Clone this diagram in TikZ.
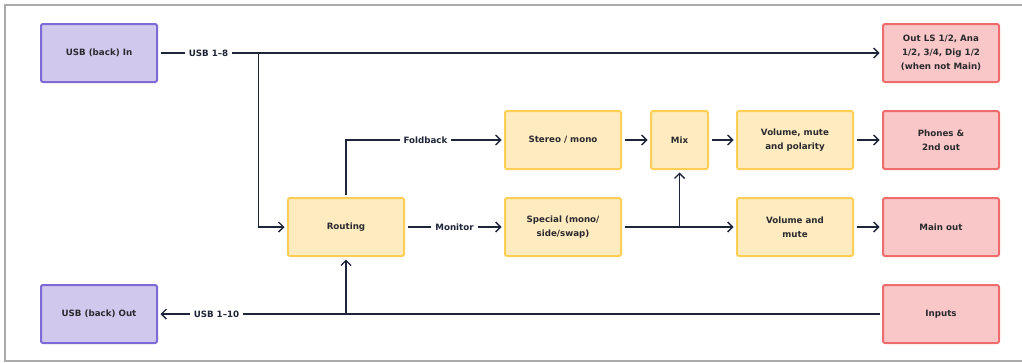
\documentclass[tikz,border=0pt]{standalone}
\usepackage{fontspec}
\setmainfont{DejaVu Sans}
\usetikzlibrary{positioning,arrows.meta}
\definecolor{srcfill}{HTML}{D0C9ED}
\definecolor{srcdraw}{HTML}{7E69D6}
\definecolor{procfill}{HTML}{FFEBC0}
\definecolor{procdraw}{HTML}{FFCF55}
\definecolor{outfill}{HTML}{F9C7C7}
\definecolor{outdraw}{HTML}{EE6C6C}
\definecolor{wirecol}{HTML}{1F2538}
\definecolor{boxtext}{HTML}{2A2A2E}
\definecolor{framecol}{HTML}{ABABAB}
\newcommand\flowfont{\fontsize{8.7}{14}\selectfont\bfseries}

\begin{document}
\begin{tikzpicture}[x=1pt,y=1pt,
    >={Straight Barb[length=5pt,width=10pt]},
    box/.style={draw,rectangle,rounded corners=2pt,line width=2pt,anchor=center,
        minimum width=116pt,minimum height=58pt,inner sep=2pt,outer sep=3.5pt,
        align=center,font=\flowfont,text=boxtext},
    srcbox/.style={box,draw=srcdraw,fill=srcfill},
    procbox/.style={box,draw=procdraw,fill=procfill},
    outbox/.style={box,draw=outdraw,fill=outfill},
    flowlabel/.style={inner sep=4pt,outer sep=0pt,font=\flowfont,text=wirecol},
    wire/.style={draw=wirecol,line width=1.4pt}]
    \useasboundingbox (0,0) rectangle (1022,-362);
    \draw [framecol,line width=1.5pt] (1022,-5) -- (5,-5) -- (5,-361) -- (1022,-361);
    \matrix (flow) [row sep=27pt,column sep=27pt,inner sep=0pt,outer sep=0pt,
        anchor=north west] at (40,-23) {
        \node (usbin) [srcbox] {USB (back) In};
        &[102pt] &[72pt] &[1pt] & &[1pt]
        \node (outls) [outbox] {Out LS 1/2, Ana\\1/2, 3/4, Dig 1/2\\(when not Main)};
        \\
        & &
        \node (stereo) [procbox] {Stereo / mono};
        &
        \node (mix) [procbox,minimum width=57pt] {Mix};
        &
        \node (volpol) [procbox] {Volume, mute\\and polarity};
        &
        \node (phones) [outbox] {Phones \&\\2nd out};
        \\
        &
        \node (routing) [procbox] {Routing};
        &
        \node (special) [procbox] {Special (mono/\\side/swap)};
        & &
        \node (volmute) [procbox] {Volume and\\mute};
        &
        \node (mainout) [outbox] {Main out};
        \\
        \node (usbout) [srcbox] {USB (back) Out};
        & & & & &
        \node (inputs) [outbox] {Inputs};
        \\
    };
    % labels on the wires
    \node (usb18) [flowlabel,right=48pt of usbin.east,anchor=center] {USB 1--8};
    \node (usb110) [flowlabel,right=56pt of usbout.east,anchor=center] {USB 1--10};
    \node (foldback) [flowlabel,left=76pt of stereo.west,anchor=center] {Foldback};
    \node (monitor) [flowlabel,left=47pt of special.west,anchor=center] {Monitor};
    \coordinate [left=26pt of routing.west] (inbranch);

    \draw [wire] (usbin) -- (usb18);
    \draw [wire,->] (usb18) -- (outls);
    \draw [wire,->] (inbranch |- usbin.east) -- (inbranch) -- (routing.west);
    \draw [wire] (routing.north) |- (foldback);
    \draw [wire,->] (foldback) -- (stereo);
    \draw [wire] (routing) -- (monitor);
    \draw [wire,->] (monitor) -- (special);
    \draw [wire,->] (stereo) -- (mix);
    \draw [wire,->] (mix) -- (volpol);
    \draw [wire,->] (volpol) -- (phones);
    \draw [wire,->] (special) -- (volmute);
    \draw [wire,->] (mix.south |- special.east) -- (mix.south);
    \draw [wire,->] (volmute) -- (mainout);
    \draw [wire] (inputs) -- (usb110);
    \draw [wire,->] (usb110) -- (usbout);
    \draw [wire,->] (routing.south |- inputs.west) -- (routing.south);
\end{tikzpicture}
\end{document}
